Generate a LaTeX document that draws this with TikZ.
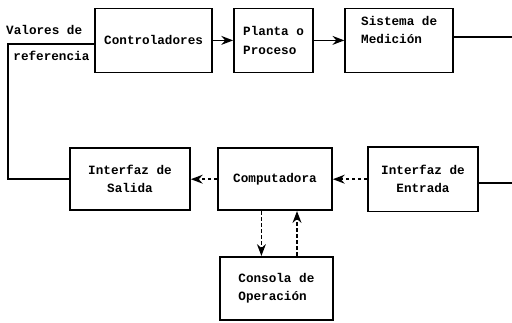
\documentclass[tikz,border=0pt]{standalone}
\usepackage{fontspec}
\setmonofont{Liberation Mono}
\usetikzlibrary{arrows.meta,positioning}

\begin{document}
\begin{tikzpicture}[>=Stealth,line width=1.2pt,
 font=\ttfamily\bfseries\fontsize{9}{13}\selectfont,
 blk/.style={draw,inner sep=5pt,minimum height=1.6cm},
 lbl/.style={inner sep=1pt,anchor=west},
 dots/.style={dash pattern=on 2.5pt off 1.8pt}]
\useasboundingbox (0,0) rectangle (12.8,-8.05);
\node[blk,minimum width=2.93cm] (ctrl) at (3.84,-1.01) {Controladores};
\node[blk,minimum width=1.98cm,align=left] (planta) at (6.84,-1.01) {Planta o\\Proceso};
\node[blk,minimum width=2.7cm,align=left] (medic) at (9.98,-1.01) {Sistema de\\Medición\\[2pt]};
\node[blk,minimum width=3.0cm,minimum height=1.55cm,align=center] (salida) at (3.25,-4.48) {Interfaz de\\Salida};
\node[blk,minimum width=2.85cm,minimum height=1.55cm] (comp) at (6.875,-4.48) {Computadora};
\node[blk,minimum width=2.75cm,minimum height=1.62cm,align=center] (entrada) at (10.575,-4.48) {Interfaz de\\Entrada};
\node[blk,minimum width=2.83cm,minimum height=1.58cm,align=left] (consola) at (6.91,-7.21) {Consola de\\Operación};
\node[lbl] (valref) at (0.1,-0.76) {Valores de};
\node[lbl,below right=0.3cm and 0.18cm of valref.south west,anchor=north west] (ref) {referencia};
\coordinate (lft) at (0.2,-1.1);
\coordinate (outm) at (12.8,-0.93);
\coordinate (oute) at (12.8,-4.57);
% lazo principal
\draw[->] (ctrl) -- (planta);
\draw[->] (planta) -- (medic);
\draw (medic.east |- outm) -- (outm);
\draw (entrada.east |- oute) -- (oute);
\draw (salida.west) -| (lft) -- (ctrl.west |- lft);
% interfaces
\draw[->,dots] (comp) -- (salida);
\draw[->,dots] (entrada) -- (comp);
\draw[->,dots] ([xshift=-0.34cm]comp.south) -- ([xshift=-0.34cm]comp.south |- consola.north);
\draw[->,dots] ([xshift=0.55cm]comp.south |- consola.north) -- ([xshift=0.55cm]comp.south);
\end{tikzpicture}
\end{document}
